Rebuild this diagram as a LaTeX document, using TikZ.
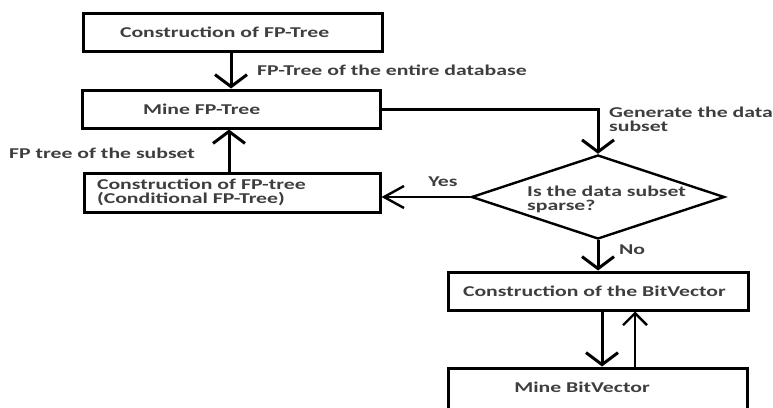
\documentclass[tikz,border=0pt]{standalone}
\usepackage{fontspec}
\setmainfont{Carlito}[FakeStretch=1.45]
\usetikzlibrary{arrows.meta,shapes.geometric}
\definecolor{txtc}{RGB}{62,62,62}
\begin{document}
\begin{tikzpicture}[x=1pt,y=-1pt,
  every node/.style={font=\fontsize{15}{15}\selectfont\bfseries, text=txtc},
  box/.style={draw=black, line width=3pt, rectangle, minimum height=38pt, align=left, inner ysep=0pt},
  decision/.style={draw=black, line width=2.4pt, diamond, inner sep=0pt, minimum width=253pt, minimum height=84pt},
  txt/.style={inner sep=0pt, align=left},
  varr/.style={line width=3pt, -{Straight Barb[length=12pt,width=32pt]}},
  harr/.style={line width=2.4pt, -{Straight Barb[length=20pt,width=22pt]}},
  plain/.style={line width=2.4pt}
]
\useasboundingbox (0,0) rectangle (773,407);
\begin{scope}
\clip (0,0) rectangle (773,407);
\node[box, inner xsep=37pt, text width=225pt] (b1) at (232.5,32.5) {Construction of FP-Tree};
\node[box, inner xsep=61pt, text width=176pt] (b2) at (231,109) {Mine FP-Tree};
\node[box, inner xsep=13pt, text width=270pt, minimum height=39pt] (b3) at (232,192.5) {Construction of FP-tree\\[-1pt](Conditional FP-Tree)};
\node[decision] (d) at (598,197) {};
\node[txt, anchor=west] (dt) at (527,199.5) {Is the data subset\\[-1pt]sparse?};
\node[box, inner xsep=15pt, text width=270pt] (b4) at (598,291) {Construction of the BitVector};
\node[box, minimum width=299pt, minimum height=50pt] (b5) at (597.5,393) {};
\node[txt] (t5) at (582,387) {Mine BitVector};
\end{scope}

\draw[varr] (b1.south) ++(-1.5,0) coordinate (a1s) -- (a1s |- b2.north);
\node[txt, anchor=west] (l1) at (257,70) {FP-Tree of the entire database};

\draw[varr] ([xshift=-3pt]b3.north) coordinate (a2s) -- (a2s |- b2.south);
\node[txt, anchor=west] (l2) at (9,153) {FP tree of the subset};

\draw[varr] (b2.east) -| (d.north);
\node[txt, anchor=west] (l3) at (609,119.5) {Generate the data\\[-1pt]subset};

\draw[harr] (d.west) -- (d.west -| b3.east);
\node[txt] (l4) at (443,182) {Yes};

\draw[varr] (d.south) -- (d.south |- b4.north);
\node[txt] (l5) at (632,250) {No};

\draw[varr] ([xshift=4pt]b4.south) coordinate (a6s) -- (a6s |- b5.north);
\draw[line width=2.4pt, -{Straight Barb[length=12pt,width=24pt]}] (635,368) coordinate (a7s) -- (a7s |- b4.south);
\end{tikzpicture}
\end{document}
